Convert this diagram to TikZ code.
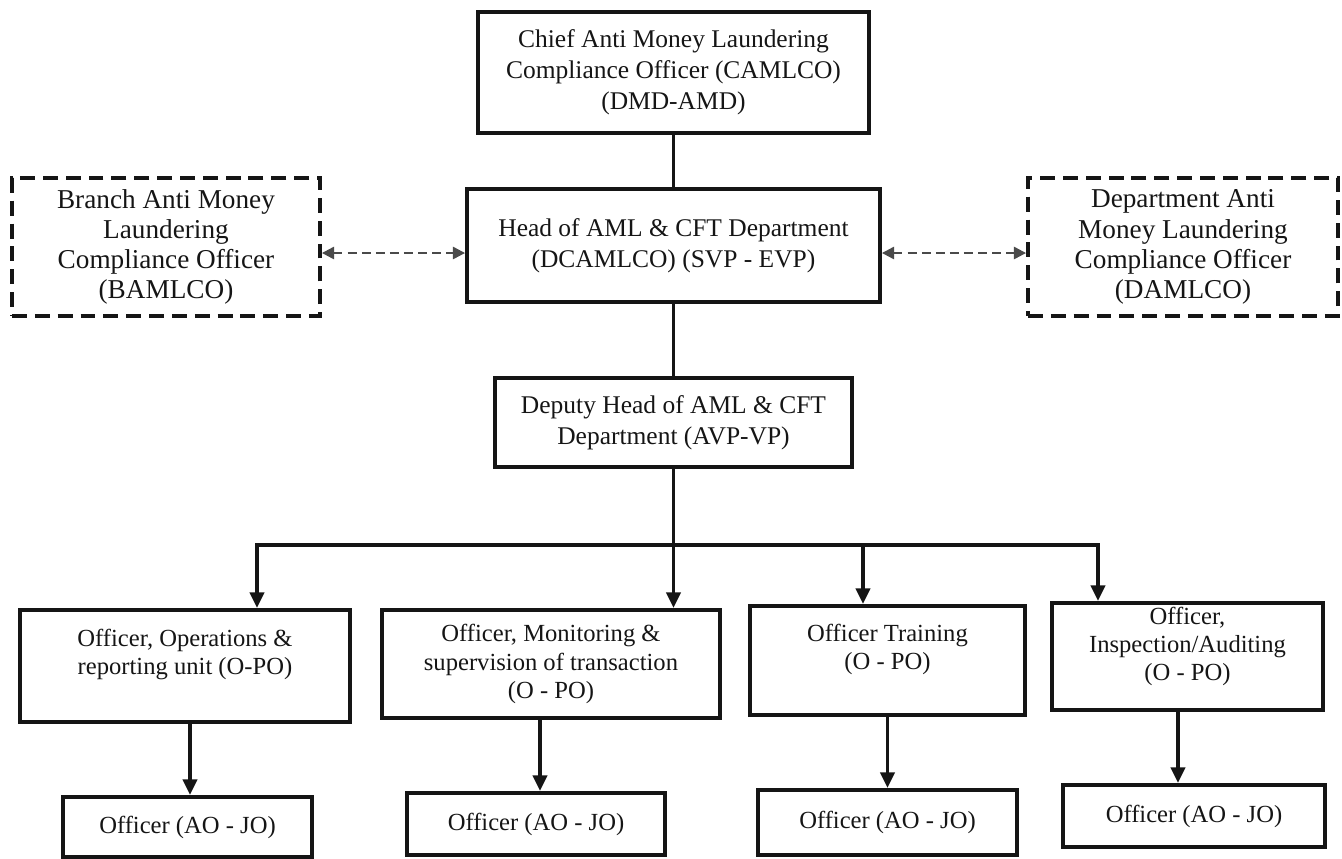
\documentclass[tikz,border=0pt]{standalone}
\usepackage{fontspec}
\setmainfont{Liberation Serif}
\usetikzlibrary{arrows.meta, positioning, calc}
\definecolor{inkblack}{HTML}{151515}
\definecolor{dashgray}{HTML}{4A4A4A}

\tikzset{
  post/.style={draw=inkblack, line width=2.2pt, align=center, inner sep=2pt,
    text=inkblack, font=\fontsize{14.5}{17.6}\selectfont},
  linkpost/.style={post, dash pattern=on 8.5pt off 4.5pt,
    font=\fontsize{15.5}{17.2}\selectfont},
  unitpost/.style={post, font=\fontsize{14}{16}\selectfont},
  trunk/.style={inkblack, line width=2.2pt, line cap=rect},
  feed/.style={trunk, -{Triangle[length=9pt,width=8pt]}},
  link/.style={dashgray, line width=1.3pt, dash pattern=on 5pt off 3pt,
    {Triangle[length=7pt,width=7pt]}-{Triangle[length=7pt,width=7pt]}},
}

\begin{document}
\begin{tikzpicture}
  %% 1 px of the 1342 x 858 sheet = 0.02 cm
  \useasboundingbox (0,0) rectangle (26.84,-17.16);

  % Top of the chain
  \node[post, minimum width=7.82cm, minimum height=2.42cm] (camlco) at (13.47,-1.45)
    {Chief Anti Money Laundering\\Compliance Officer (CAMLCO)\\(DMD-AMD)};
  \node[post, minimum width=8.26cm, minimum height=2.26cm] (head) at (13.47,-4.91)
    {Head of AML \& CFT Department\\(DCAMLCO) (SVP - EVP)};
  \node[post, minimum width=7.14cm, minimum height=1.78cm] (deputy) at (13.47,-8.45)
    {Deputy Head of AML \& CFT\\Department (AVP-VP)};

  % Dashed side posts
  \node[linkpost, minimum width=6.16cm, minimum height=2.76cm] (bamlco) at (3.32,-4.94)
    {Branch Anti Money\\Laundering\\Compliance Officer\\(BAMLCO)};
  \node[linkpost, minimum width=6.2cm, minimum height=2.76cm] (damlco) at (23.66,-4.94)
    {Department Anti\\Money Laundering\\Compliance Officer\\(DAMLCO)};

  % Unit officers (O - PO); empty last line keeps the text high in the box
  \node[unitpost, minimum width=6.6cm, minimum height=2.24cm] (b1) at (3.70,-13.32)
    {Officer, Operations \&\\reporting unit (O-PO)\\[0pt]\mbox{}};
  \node[unitpost, minimum width=6.76cm, minimum height=2.16cm] (b2) at (11.02,-13.28)
    {Officer, Monitoring \&\\supervision of transaction\\(O - PO)};
  \node[unitpost, minimum width=5.5cm, minimum height=2.18cm] (b3) at (17.75,-13.21)
    {Officer Training\\(O - PO)\\[0pt]\mbox{}};
  \node[unitpost, minimum width=5.42cm, minimum height=2.14cm] (b4) at (23.75,-13.13)
    {Officer,\\Inspection/Auditing\\(O - PO)\\[-2pt]\mbox{}};

  % Junior officers (AO - JO)
  \node[unitpost, minimum width=4.98cm, minimum height=1.2cm] (s1) at (3.75,-16.54) {Officer (AO - JO)};
  \node[unitpost, minimum width=5.16cm, minimum height=1.24cm] (s2) at (10.72,-16.48) {Officer (AO - JO)};
  \node[unitpost, minimum width=5.18cm, minimum height=1.3cm] (s3) at (17.75,-16.45) {Officer (AO - JO)};
  \node[unitpost, minimum width=5.24cm, minimum height=1.24cm] (s4) at (23.88,-16.32) {Officer (AO - JO)};

  % Main chain
  \draw[trunk] (camlco) -- (head);
  \draw[trunk] (head) -- (deputy);
  \draw[feed] (deputy.south) -- (deputy.south |- b2.north);

  % Branch-out bar
  \coordinate (busL) at (5.14,-10.9);
  \coordinate (busT) at (17.26,-10.9);
  \coordinate (busR) at (21.96,-10.9);
  \draw[trunk] (busL) -- (busR);
  \draw[feed] (busL) -- (busL |- b1.north);
  \draw[feed] (busT) -- (busT |- b3.north);
  \draw[feed] (busR) -- (busR |- b4.north);

  % Unit -> junior officer
  \foreach \u/\o/\dx in {b1/s1/0.05, b2/s2/0.08, b3/s3/0, b4/s4/-0.32}{
    \draw[feed] ([xshift=\dx cm]\o.north |- \u.south) -- ([xshift=\dx cm]\o.north);
  }

  % Two-way dashed links
  \draw[link] ([yshift=-0.12cm]bamlco.east) -- ([yshift=-0.12cm]bamlco.east -| head.west);
  \draw[link] ([yshift=-0.15cm]head.east) -- ([yshift=-0.15cm]head.east -| damlco.west);
\end{tikzpicture}
\end{document}
